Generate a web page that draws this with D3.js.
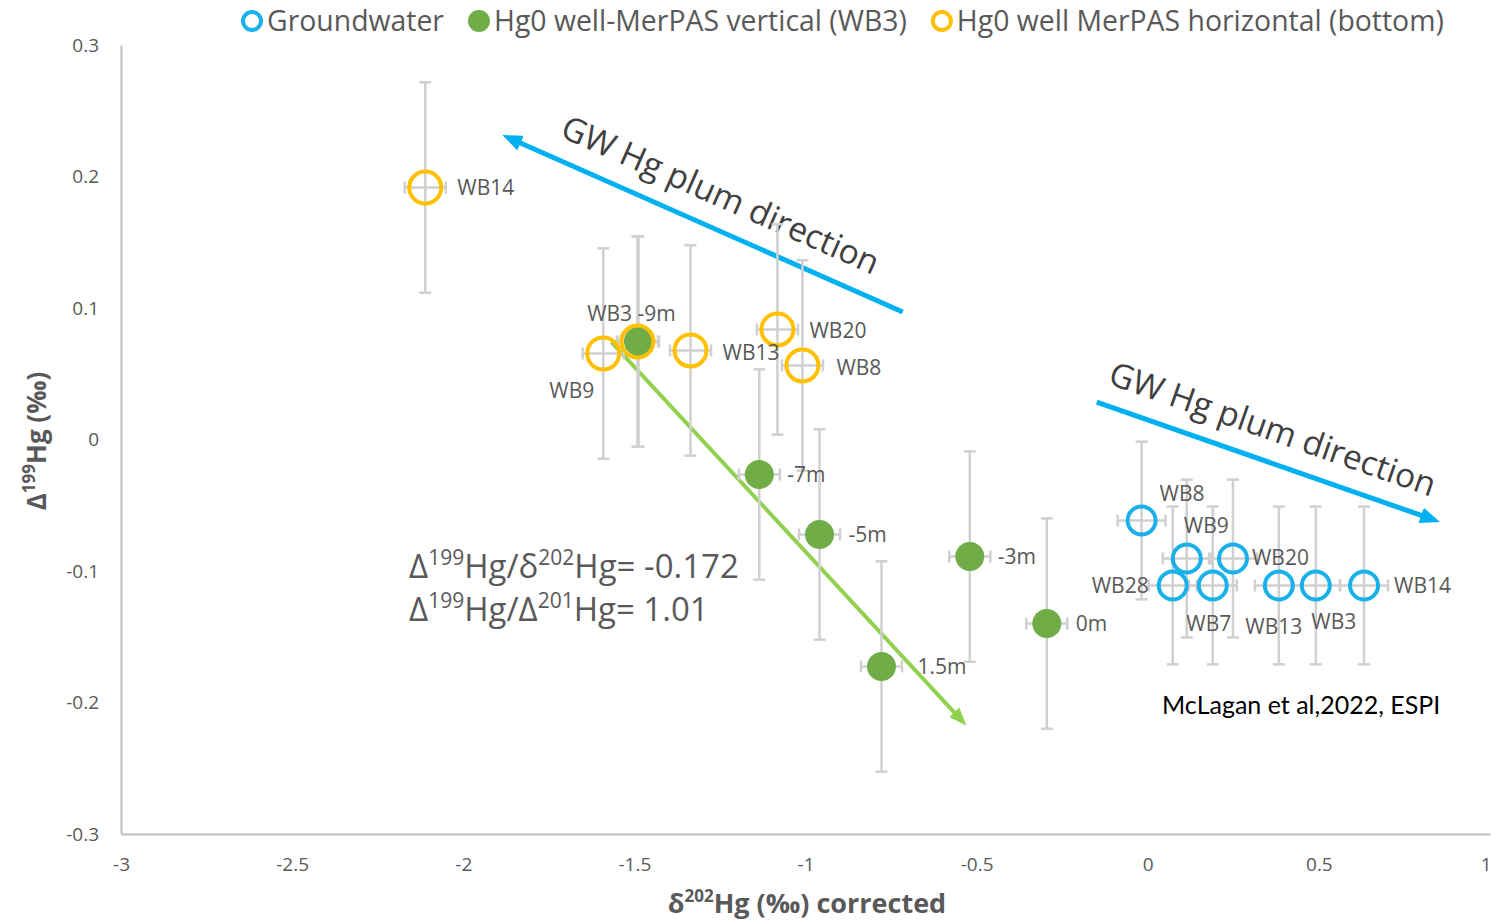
<!DOCTYPE html>
<html>
<head>
<meta charset="utf-8">
<script src="https://cdn.jsdelivr.net/npm/d3@7"></script>
<style>
  html, body { margin: 0; padding: 0; background: #fff; }
  svg { display: block; font-family: "Open Sans", "Noto Sans", sans-serif; }
</style>
</head>
<body>
<div id="container"></div>
<script>
const width = 1491;
const height = 923;

// groundwater (open blue circles)
const gwNames = ["WB8", "WB9", "WB20", "WB28", "WB7", "WB13", "WB3", "WB14"];
const gwX = [-0.018, 0.114, 0.249, 0.073, 0.19, 0.383, 0.491, 0.632];
const gwY = [-0.0616, -0.0905, -0.0905, -0.111, -0.111, -0.111, -0.111, -0.111];
const gwErrX = 0.07;
const gwErrY = 0.06;

// Hg0 well-MerPAS vertical (WB3), filled green
const vertNames = ["WB3 -9m", "-7m", "-5m", "-3m", "0m", "1.5m"];
const vertX = [-1.488, -1.135, -0.959, -0.52, -0.295, -0.778];
const vertY = [0.0745, -0.0266, -0.0722, -0.089, -0.14, -0.1726];
const vertErrX = 0.06;
const vertErrY = 0.08;

// Hg0 well MerPAS horizontal (bottom), open orange circles
const horNames = ["WB14", "WB9", "WB3", "WB13", "WB20", "WB8"];
const horX = [-2.111, -1.591, -1.491, -1.336, -1.082, -1.009];
const horY = [0.1916, 0.0654, 0.0745, 0.0677, 0.0837, 0.0563];
const horErrX = 0.06;
const horErrY = 0.08;

const xTicks = [-3, -2.5, -2, -1.5, -1, -0.5, 0, 0.5, 1];
const yTicks = [-0.3, -0.2, -0.1, 0, 0.1, 0.2, 0.3];

const legendLabels = ["Groundwater", "Hg0 well-MerPAS vertical (WB3)", "Hg0 well MerPAS horizontal (bottom)"];

// annotation arrows in data units: [x, y]
const arrowFrom = [[-0.716, 0.097], [-0.149, 0.0285], [-1.567, 0.0741]];
const arrowTo = [[-1.886, 0.2316], [0.854, -0.0627], [-0.526, -0.2186]];
const arrowColors = ["#00b0f0", "#00b0f0", "#92d050"];
const plumeText = "GW Hg plum direction";
const plumeTextAt = [[-1.248, 0.186], [0.365, 0.008]];

// label placement per point: [dx, dy, anchor]
const gwLabelPos = [[18, -27, "start"], [-3, -33, "start"], [19, -1, "start"], [-24, 0, "end"],
  [-4, 38, "middle"], [-5, 41, "middle"], [18, 36, "middle"], [30, 0, "start"]];
const vertLabelPos = [[-7, -28, "middle"], [28, 0, "start"], [29, 0, "start"], [28, 0, "start"],
  [29, 0, "start"], [36, 0, "start"]];
const horLabelPos = [[32, 0, "start"], [-9, 37, "end"], null, [32, 2, "start"], [32, 1, "start"], [34, 2, "start"]];

const blue = "#1ab1ea";
const green = "#70ad47";
const orange = "#ffc000";
const textGray = "#595959";
const errGray = "#d0d0d0";

const x = d3.scaleLinear().domain([-3, 1]).range([121, 1490]);
const y = d3.scaleLinear().domain([-0.3, 0.3]).range([834, 45]);

const svg = d3.select("#container").append("svg")
  .attr("width", width)
  .attr("height", height);

// axes
const xAxis = svg.append("g")
  .attr("transform", `translate(0,${y(-0.3)})`)
  .call(d3.axisBottom(x).tickValues(xTicks).tickSize(0).tickPadding(24).tickFormat(d => String(d)));
const yAxis = svg.append("g")
  .attr("transform", `translate(${x(-3)},0)`)
  .call(d3.axisLeft(y).tickValues(yTicks).tickSize(0).tickPadding(22).tickFormat(d => String(d)));
[xAxis, yAxis].forEach(a => {
  a.select(".domain").attr("stroke", "#bfbfbf").attr("stroke-width", 2);
  a.selectAll("text").attr("fill", textGray).attr("font-size", 19)
    .attr("font-family", "'Open Sans', sans-serif");
});
// last x tick sits on the right edge: keep it inside the picture
xAxis.selectAll(".tick").filter(d => d === 1).select("text").attr("text-anchor", "end").attr("dx", 1);

// axis titles
const yTitle = svg.append("text")
  .attr("transform", `translate(46,441) rotate(-90)`)
  .attr("text-anchor", "middle")
  .attr("font-size", 26).attr("font-weight", 700).attr("fill", textGray);
yTitle.append("tspan").text("Δ");
yTitle.append("tspan").attr("font-size", 17).attr("dy", -11).text("199");
yTitle.append("tspan").attr("dy", 11).text("Hg (‰)");

const xTitle = svg.append("text")
  .attr("x", 807).attr("y", 913)
  .attr("text-anchor", "middle")
  .attr("font-size", 27).attr("font-weight", 700).attr("fill", textGray);
xTitle.append("tspan").text("δ");
xTitle.append("tspan").attr("font-size", 17).attr("dy", -11).text("202");
xTitle.append("tspan").attr("dy", 11).text("Hg (‰) corrected");

// arrows (under markers)
const defs = svg.append("defs");
arrowColors.forEach((c, i) => {
  defs.append("marker")
    .attr("id", "head" + i)
    .attr("markerUnits", "userSpaceOnUse")
    .attr("viewBox", "0 -8 20 16")
    .attr("refX", 10).attr("refY", 0)
    .attr("markerWidth", 20).attr("markerHeight", 16)
    .attr("orient", "auto")
    .append("path")
    .attr("d", i < 2 ? "M0,-8L20,0L0,8Z" : "M0,-7L18,0L0,7Z")
    .attr("fill", c);
});
arrowFrom.forEach((f, i) => {
  const x1 = x(f[0]), y1 = y(f[1]);
  const x2 = x(arrowTo[i][0]), y2 = y(arrowTo[i][1]);
  const len = Math.hypot(x2 - x1, y2 - y1);
  const k = (len - 10) / len;
  svg.append("line")
    .attr("x1", x1).attr("y1", y1)
    .attr("x2", x1 + (x2 - x1) * k).attr("y2", y1 + (y2 - y1) * k)
    .attr("stroke", arrowColors[i])
    .attr("stroke-width", i < 2 ? 5 : 4)
    .attr("marker-end", `url(#head${i})`);
});

// plume text, rotated along the blue arrows
plumeTextAt.forEach((p, i) => {
  const a = Math.atan2(y(arrowTo[i][1]) - y(arrowFrom[i][1]), x(arrowTo[i][0]) - x(arrowFrom[i][0]));
  let deg = a * 180 / Math.PI;
  if (deg > 90) deg -= 180;
  if (deg < -90) deg += 180;
  svg.append("text")
    .attr("transform", `translate(${x(p[0])},${y(p[1])}) rotate(${deg})`)
    .attr("text-anchor", "middle")
    .attr("dy", "0.35em")
    .attr("font-size", 33.5)
    .attr("fill", "#404040")
    .text(plumeText);
});

// series
const series = [
  { names: gwNames, xs: gwX, ys: gwY, ex: gwErrX, ey: gwErrY, pos: gwLabelPos, color: blue, filled: false, r: 14, sw: 4 },
  { names: vertNames, xs: vertX, ys: vertY, ex: vertErrX, ey: vertErrY, pos: vertLabelPos, color: green, filled: true, r: 14.5, sw: 0 },
  { names: horNames, xs: horX, ys: horY, ex: horErrX, ey: horErrY, pos: horLabelPos, color: orange, filled: false, r: 16, sw: 4 },
];

const errG = svg.append("g").attr("stroke", errGray).attr("stroke-width", 2.5);
const cap = 6;
series.forEach(s => {
  s.xs.forEach((xv, i) => {
    const cx = x(xv), cy = y(s.ys[i]);
    const yt = y(s.ys[i] + s.ey), yb = y(s.ys[i] - s.ey);
    const xl = x(xv - s.ex), xr = x(xv + s.ex);
    errG.append("line").attr("x1", cx).attr("x2", cx).attr("y1", yt).attr("y2", yb);
    errG.append("line").attr("x1", cx - cap).attr("x2", cx + cap).attr("y1", yt).attr("y2", yt);
    errG.append("line").attr("x1", cx - cap).attr("x2", cx + cap).attr("y1", yb).attr("y2", yb);
    errG.append("line").attr("x1", xl).attr("x2", xr).attr("y1", cy).attr("y2", cy);
    errG.append("line").attr("x1", xl).attr("x2", xl).attr("y1", cy - cap).attr("y2", cy + cap);
    errG.append("line").attr("x1", xr).attr("x2", xr).attr("y1", cy - cap).attr("y2", cy + cap);
  });
});

series.forEach(s => {
  svg.append("g")
    .selectAll("circle")
    .data(s.xs)
    .join("circle")
    .attr("cx", d => x(d))
    .attr("cy", (d, i) => y(s.ys[i]))
    .attr("r", s.r)
    .attr("fill", s.filled ? s.color : "none")
    .attr("stroke", s.filled ? "none" : s.color)
    .attr("stroke-width", s.sw);
});

series.forEach(s => {
  s.names.forEach((n, i) => {
    const p = s.pos[i];
    if (!p) return;
    svg.append("text")
      .attr("x", x(s.xs[i]) + p[0])
      .attr("y", y(s.ys[i]) + p[1])
      .attr("dy", "0.35em")
      .attr("text-anchor", p[2])
      .attr("font-size", 21)
      .attr("fill", textGray)
      .text(n);
  });
});

// slope text
const eq = svg.append("g").attr("fill", textGray).attr("font-size", 33);
const eq1 = eq.append("text").attr("x", 409).attr("y", 578);
eq1.append("tspan").text("Δ");
eq1.append("tspan").attr("font-size", 21).attr("dy", -13).text("199");
eq1.append("tspan").attr("dy", 13).text("Hg/δ");
eq1.append("tspan").attr("font-size", 21).attr("dy", -13).text("202");
eq1.append("tspan").attr("dy", 13).text("Hg= -0.172");
const eq2 = eq.append("text").attr("x", 409).attr("y", 621);
eq2.append("tspan").text("Δ");
eq2.append("tspan").attr("font-size", 21).attr("dy", -13).text("199");
eq2.append("tspan").attr("dy", 13).text("Hg/Δ");
eq2.append("tspan").attr("font-size", 21).attr("dy", -13).text("201");
eq2.append("tspan").attr("dy", 13).text("Hg= 1.01");

svg.append("text")
  .attr("x", 1162).attr("y", 714)
  .attr("font-family", "Lato, sans-serif")
  .attr("font-size", 25)
  .attr("fill", "#000")
  .text("McLagan et al,2022, ESPI");

// legend
const legend = svg.append("g").attr("id", "legend");
let lx = 252;
series.forEach((s, i) => {
  legend.append("circle")
    .attr("cx", lx).attr("cy", 21)
    .attr("r", s.filled ? 11 : 9)
    .attr("fill", s.filled ? s.color : "none")
    .attr("stroke", s.filled ? "none" : s.color)
    .attr("stroke-width", 4);
  const t = legend.append("text")
    .attr("x", lx + 15).attr("y", 31)
    .attr("font-size", 28.4)
    .attr("fill", textGray)
    .text(legendLabels[i]);
  lx = lx + 15 + t.node().getComputedTextLength() + 35;
});
</script>
</body>
</html>
